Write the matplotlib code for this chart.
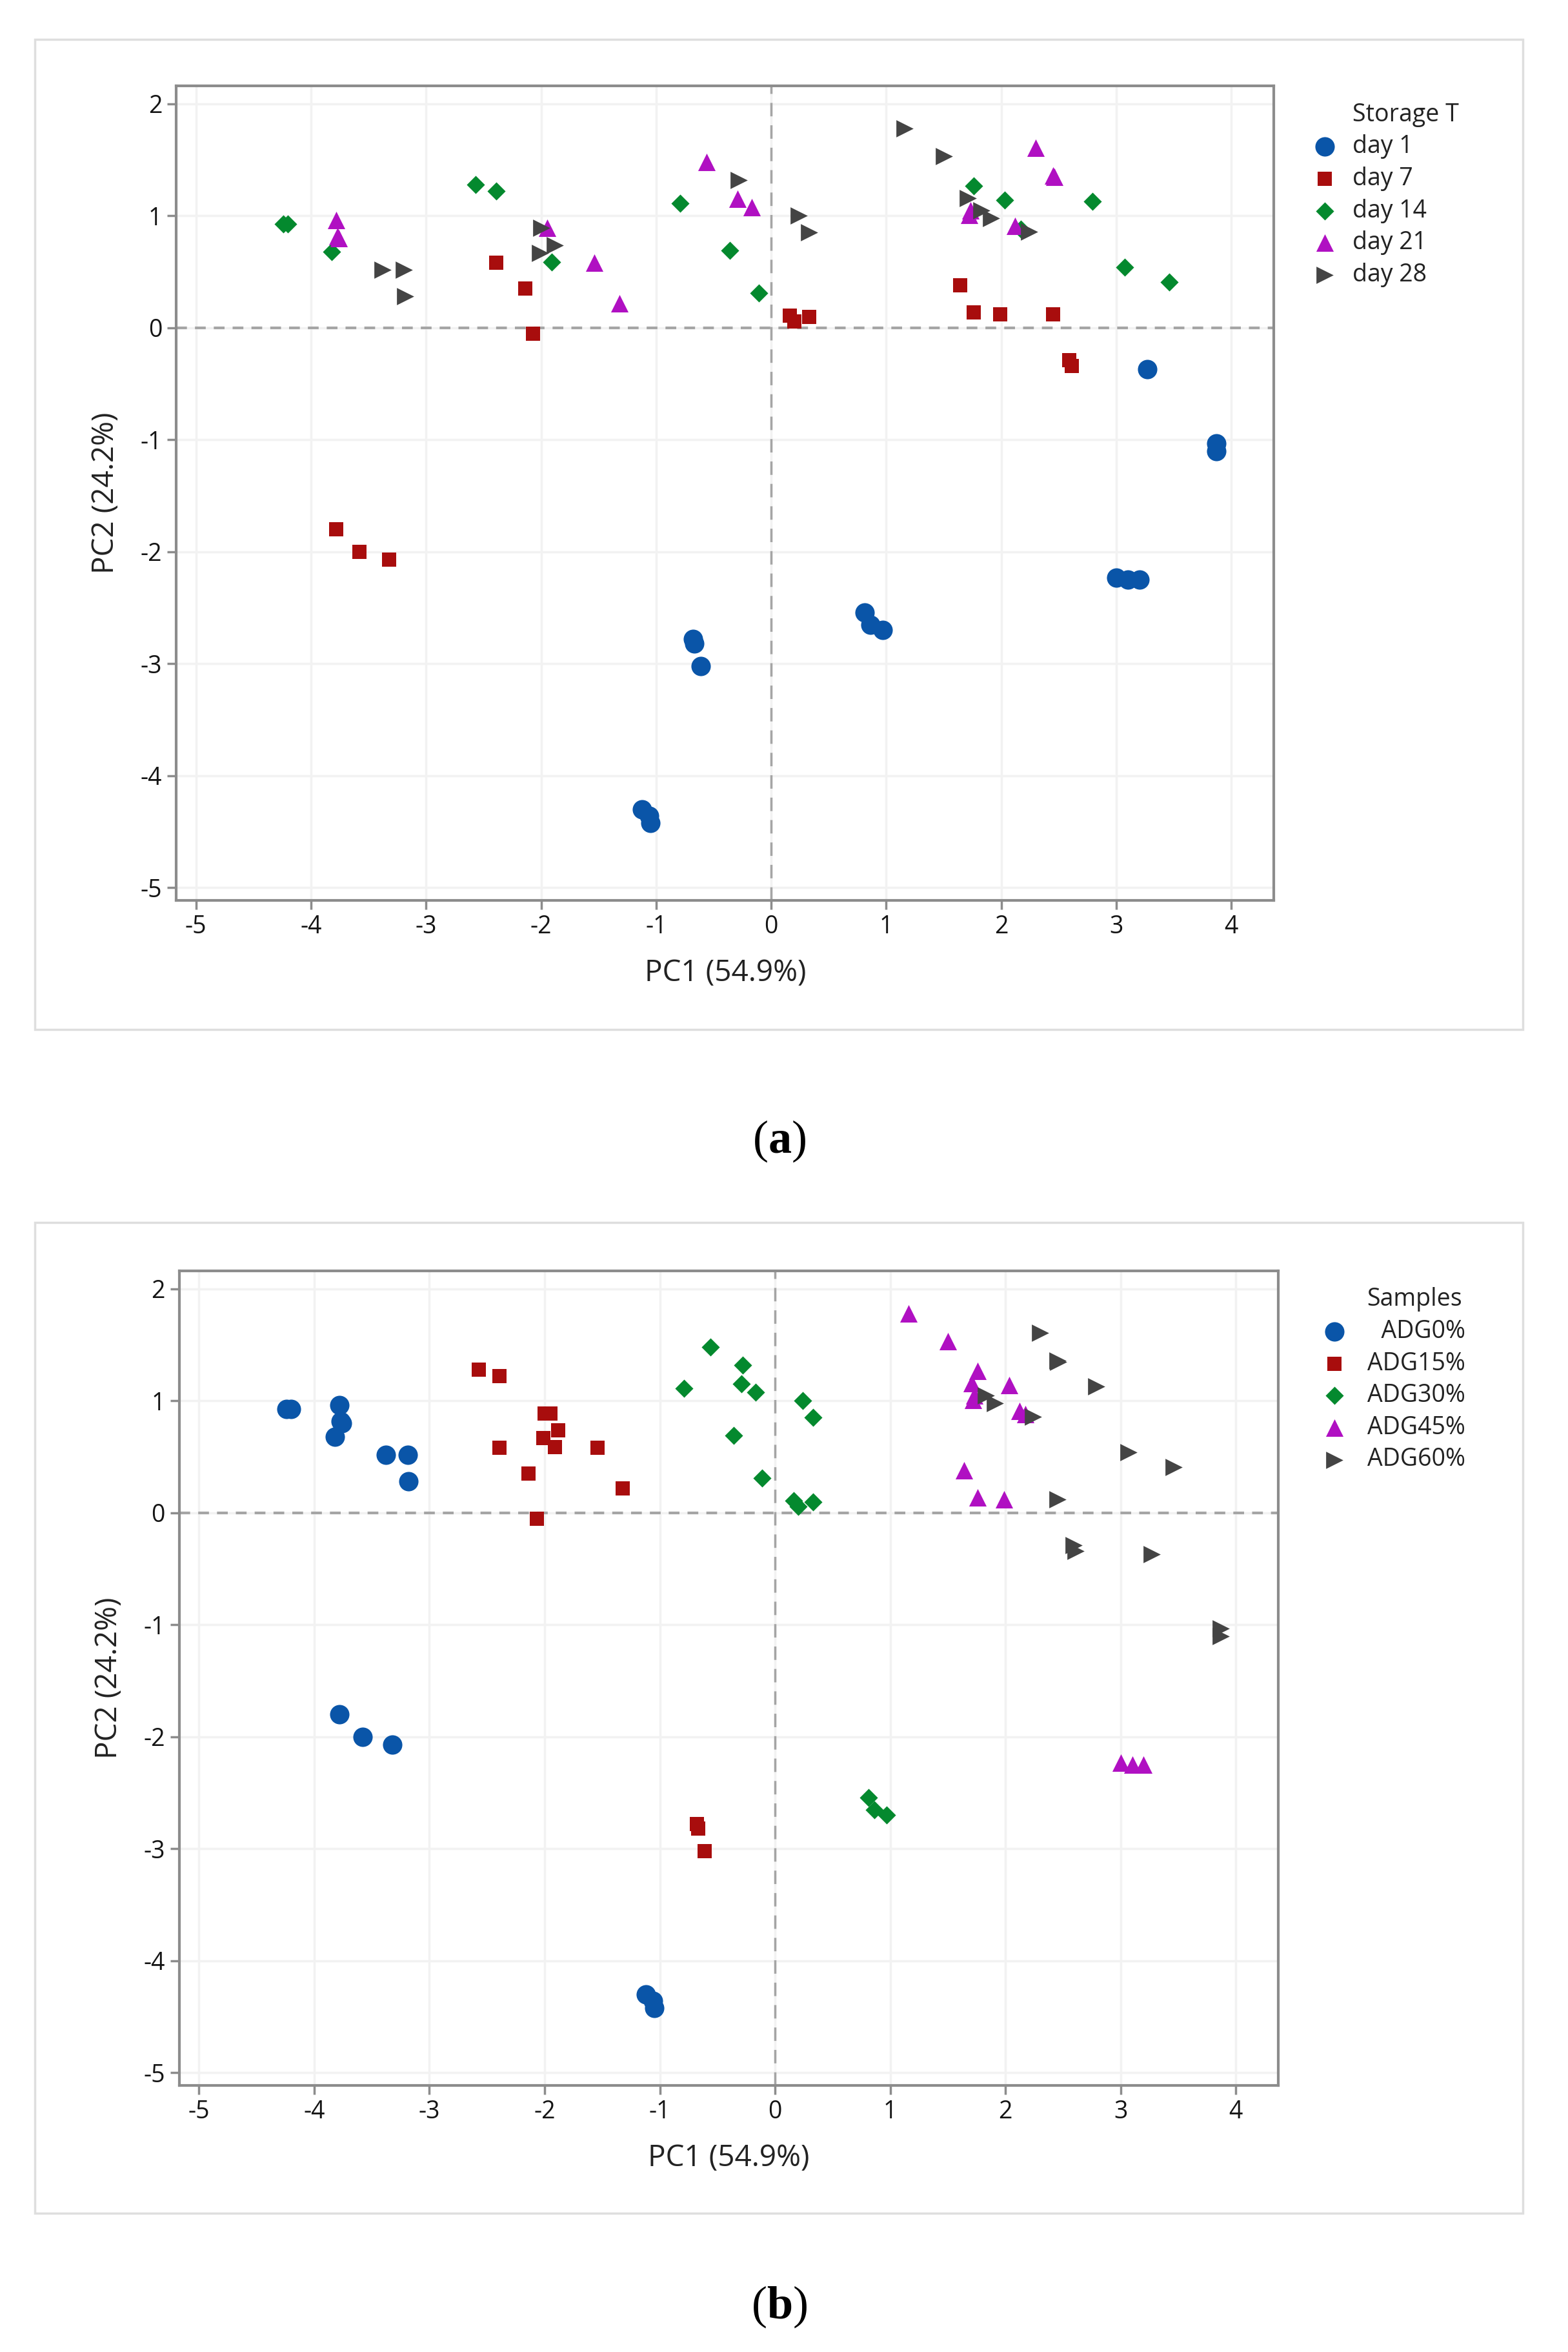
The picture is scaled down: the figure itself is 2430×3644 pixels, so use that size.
import numpy as np
import matplotlib
matplotlib.use("Agg")
import matplotlib.pyplot as plt
from matplotlib.patches import Rectangle

plt.rcParams['font.family'] = ['Open Sans', 'DejaVu Sans']
plt.rcParams['axes.unicode_minus'] = False
plt.rcParams['mathtext.fontset'] = 'custom'
plt.rcParams['mathtext.rm'] = 'Liberation Serif'
plt.rcParams['mathtext.bf'] = 'Liberation Serif:bold'

# scores, 3 replicates per day, day order: 1, 7, 14, 21, 28
days = ['day 1', 'day 7', 'day 14', 'day 21', 'day 28']
samples = ['ADG0%', 'ADG15%', 'ADG30%', 'ADG45%', 'ADG60%']

adg0_pc1 = [-1.12, -1.06, -1.05, -3.78, -3.58, -3.32, -4.24, -4.20, -3.82,
            -3.78, -3.77, -3.76, -3.38, -3.19, -3.18]
adg0_pc2 = [-4.30, -4.36, -4.42, -1.80, -2.00, -2.07, 0.93, 0.93, 0.68,
            0.96, 0.82, 0.80, 0.52, 0.52, 0.28]

adg15_pc1 = [-0.68, -0.67, -0.61, -2.39, -2.14, -2.07, -2.57, -2.39, -1.91,
             -1.95, -1.54, -1.32, -2.00, -2.01, -1.88]
adg15_pc2 = [-2.78, -2.82, -3.02, 0.58, 0.35, -0.05, 1.28, 1.22, 0.59,
             0.89, 0.58, 0.22, 0.89, 0.67, 0.74]

adg30_pc1 = [0.81, 0.86, 0.97, 0.16, 0.20, 0.33, -0.79, -0.36, -0.11,
             -0.56, -0.29, -0.17, -0.28, 0.24, 0.33]
adg30_pc2 = [-2.54, -2.65, -2.70, 0.11, 0.06, 0.10, 1.11, 0.69, 0.31,
             1.48, 1.15, 1.08, 1.32, 1.00, 0.85]

adg45_pc1 = [3.00, 3.10, 3.20, 1.64, 1.76, 1.99, 1.76, 2.03, 2.17,
             1.72, 1.73, 2.12, 1.16, 1.50, 1.71]
adg45_pc2 = [-2.23, -2.25, -2.25, 0.38, 0.14, 0.12, 1.27, 1.14, 0.88,
             1.01, 1.05, 0.91, 1.78, 1.53, 1.16]

adg60_pc1 = [3.27, 3.87, 3.87, 2.45, 2.59, 2.61, 2.79, 3.07, 3.46,
             2.30, 2.45, 2.46, 1.83, 1.91, 2.24]
adg60_pc2 = [-0.37, -1.03, -1.10, 0.12, -0.29, -0.34, 1.13, 0.54, 0.41,
             1.61, 1.36, 1.35, 1.05, 0.98, 0.86]

pc1 = np.array([adg0_pc1, adg15_pc1, adg30_pc1, adg45_pc1, adg60_pc1])
pc2 = np.array([adg0_pc2, adg15_pc2, adg30_pc2, adg45_pc2, adg60_pc2])
day_of_point = np.repeat(np.arange(5), 3)

colors = ['#0a55a8', '#a80d0d', '#04892e', '#b010c2', '#444444']
markers = ['o', 's', 'D', '^', '>']
sizes = [470, 240, 205, 380, 370]

FS = 27
TXT = '#222222'
fig = plt.figure(figsize=(24.3, 36.44), dpi=100)


def setup_axes(ax):
    ax.set_xlim(-5.17, 4.37)
    ax.set_ylim(-5.11, 2.16)
    ax.set_xticks(range(-5, 5))
    ax.set_yticks(range(-5, 3))
    ax.grid(True, color='#f2f2f2', linewidth=2.5)
    ax.set_axisbelow(True)
    ax.axhline(0, color='#a5a5a5', linestyle=(0, (4, 3)), linewidth=3, zorder=1)
    ax.axvline(0, color='#a5a5a5', linestyle=(0, (6, 4)), linewidth=2.5, zorder=1)
    for s in ax.spines.values():
        s.set_color('#8c8c8c')
        s.set_linewidth(3)
    ax.tick_params(direction='out', length=10, width=2.5, color='#8c8c8c',
                   labelsize=FS, labelcolor='#141414', pad=6)
    ax.set_xlabel('PC1 (54.9%)', fontsize=33, color=TXT, labelpad=22)
    ax.set_ylabel('PC2 (24.2%)', fontsize=33, color=TXT, labelpad=22)


# panel frames
for y0 in [1 - 683 / 1560, 1 - 1468 / 1560]:
    fig.patches.append(Rectangle((23 / 1040, y0), 987 / 1040, 657 / 1560,
                                 transform=fig.transFigure, fill=False,
                                 edgecolor='#dedede', linewidth=2.5))

# (a) coloured by storage day
ax1 = fig.add_axes([117 / 1040, 1 - 597 / 1560, 728 / 1040, 540 / 1560])
setup_axes(ax1)
for d in range(5):
    m = day_of_point == d
    ax1.scatter(pc1[:, m].ravel(), pc2[:, m].ravel(), c=colors[d],
                marker=markers[d], s=sizes[d], linewidths=0, label=days[d],
                zorder=3)
ax1.legend(loc='upper left', bbox_to_anchor=(1.035, 0.9404), frameon=False,
           fontsize=FS, handletextpad=0.65, labelspacing=0.31,
           borderaxespad=0, borderpad=0, handlelength=1.0,
           labelcolor=TXT)
ax1.text(1.0715, 0.9645, 'Storage T', transform=ax1.transAxes, fontsize=FS,
         color=TXT, va='center', ha='left')

# (b) coloured by sample; figure space pads the shorter label so texts end flush
ax2 = fig.add_axes([119 / 1040, 1 - 1383 / 1560, 729 / 1040, 540 / 1560])
setup_axes(ax2)
for k in range(5):
    lab = samples[k] if len(samples[k]) == 6 else '\u2007' + samples[k]
    ax2.scatter(pc1[k], pc2[k], c=colors[k], marker=markers[k], s=sizes[k],
                linewidths=0, label=lab, zorder=3)
ax2.legend(loc='upper left', bbox_to_anchor=(1.040, 0.9407), frameon=False,
           fontsize=FS, handletextpad=0.85, labelspacing=0.31,
           borderaxespad=0, borderpad=0, handlelength=1.0,
           labelcolor=TXT)
ax2.text(1.167, 0.965, 'Samples', transform=ax2.transAxes, fontsize=FS,
         color=TXT, va='center', ha='right')

fig.text(517 / 1040, 1 - 757 / 1560, r'($\mathbf{a}$)', fontsize=52,
         ha='center', va='center', family='Liberation Serif')
fig.text(517 / 1040, 1 - 1530 / 1560, r'($\mathbf{b}$)', fontsize=52,
         ha='center', va='center', family='Liberation Serif')

fig.savefig('out.png', dpi=100, facecolor='white')
